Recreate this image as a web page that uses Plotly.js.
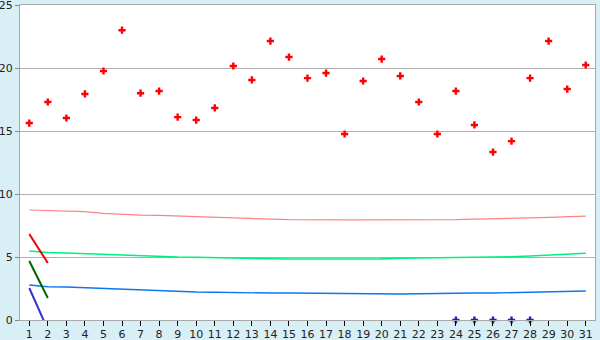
<!DOCTYPE html>
<html><head><meta charset="utf-8">
<script src="https://cdn.plot.ly/plotly-3.0.1.min.js"></script>
<style>html,body{margin:0;padding:0;background:#d9eff6;}</style>
</head><body><div id="chart" style="width:600px;height:340px;"></div>
<script>
const days = Array.from({length:31}, (_, i) => i + 1);
const redPoints = [15.63,17.3,16.03,17.94,19.76,23.0,18.0,18.17,16.1,15.87,16.83,20.16,19.05,22.14,20.87,19.2,19.6,14.76,18.97,20.71,19.37,17.3,14.76,18.17,15.48,13.33,14.2,19.2,22.14,18.33,20.24];
const blueDays = [24,25,26,27,28];
const bluePoints = [0,0,0,0,0];
const pinkLine = [8.73,8.67,8.65,8.6,8.47,8.38,8.33,8.3,8.25,8.2,8.15,8.05,8.02,8.0,7.96,7.94,7.94,7.94,7.94,7.94,7.94,7.94,7.94,7.96,8.0,8.02,8.04,8.1,8.15,8.2,8.25];
const greenLine = [5.48,5.36,5.32,5.26,5.18,5.16,5.08,5.02,5.0,4.98,4.94,4.92,4.9,4.86,4.84,4.84,4.84,4.84,4.84,4.85,4.9,4.92,4.92,4.94,4.98,5.0,5.02,5.08,5.14,5.2,5.3];
const blueLine = [2.78,2.64,2.62,2.56,2.48,2.46,2.36,2.3,2.24,2.22,2.2,2.16,2.14,2.14,2.14,2.12,2.08,2.06,2.06,2.06,2.06,2.08,2.12,2.14,2.14,2.14,2.16,2.2,2.22,2.24,2.3];
const segDays = [1,2];
const redSeg = [6.83,4.52];
const greenSeg = [4.68,1.75];
const blueSeg = [2.54,-0.77];

const traces = [
  {x: days, y: pinkLine, mode:'lines', line:{color:'#ff8080', width:1.2}},
  {x: days, y: greenLine, mode:'lines', line:{color:'#00f080', width:1.6}},
  {x: days, y: blueLine, mode:'lines', line:{color:'#0a78f0', width:1.4}},
  {x: segDays, y: redSeg, mode:'lines', line:{color:'#ee0000', width:2}},
  {x: segDays, y: greenSeg, mode:'lines', line:{color:'#006600', width:2}},
  {x: segDays, y: blueSeg, mode:'lines', line:{color:'#3333cc', width:2}},
  {x: days, y: redPoints, mode:'markers', marker:{symbol:'cross', size:6, color:'#ff0000', line:{width:0}}},
  {x: blueDays, y: bluePoints, mode:'markers', cliponaxis:false, marker:{symbol:'cross', size:6, color:'#2020b0', line:{width:0}}}
];

const layout = {
  width:600, height:340,
  margin:{l:20, r:5, t:5, b:20, pad:0},
  paper_bgcolor:'#d9eff6', plot_bgcolor:'#ffffff',
  showlegend:false,
  font:{family:'DejaVu Sans, Verdana, sans-serif', size:11, color:'#222'},
  xaxis:{range:[0.5,31.5], tickmode:'array', tickvals:days, ticktext:days.map(String),
    ticks:'outside', ticklen:5, tickcolor:'#000', tickwidth:1, ticklabelstandoff:-1,
    ticklabeloverflow:'allow', automargin:false,
    showgrid:false, zeroline:false, showline:true, linecolor:'#a8a8a8', linewidth:1, mirror:true,
    tickfont:{size:11, color:'#222'}},
  yaxis:{range:[0,25], tickvals:[0,5,10,15,20,25], ticks:'outside', ticklen:4, tickcolor:'#888',
    ticklabeloverflow:'allow', automargin:false,
    showgrid:true, gridcolor:'#b0b0b0', gridwidth:1, zeroline:false,
    showline:true, linecolor:'#a8a8a8', linewidth:1, mirror:true,
    tickfont:{size:11, color:'#222'}}
};
Plotly.newPlot('chart', traces, layout, {staticPlot:true, displayModeBar:false});
</script></body></html>
